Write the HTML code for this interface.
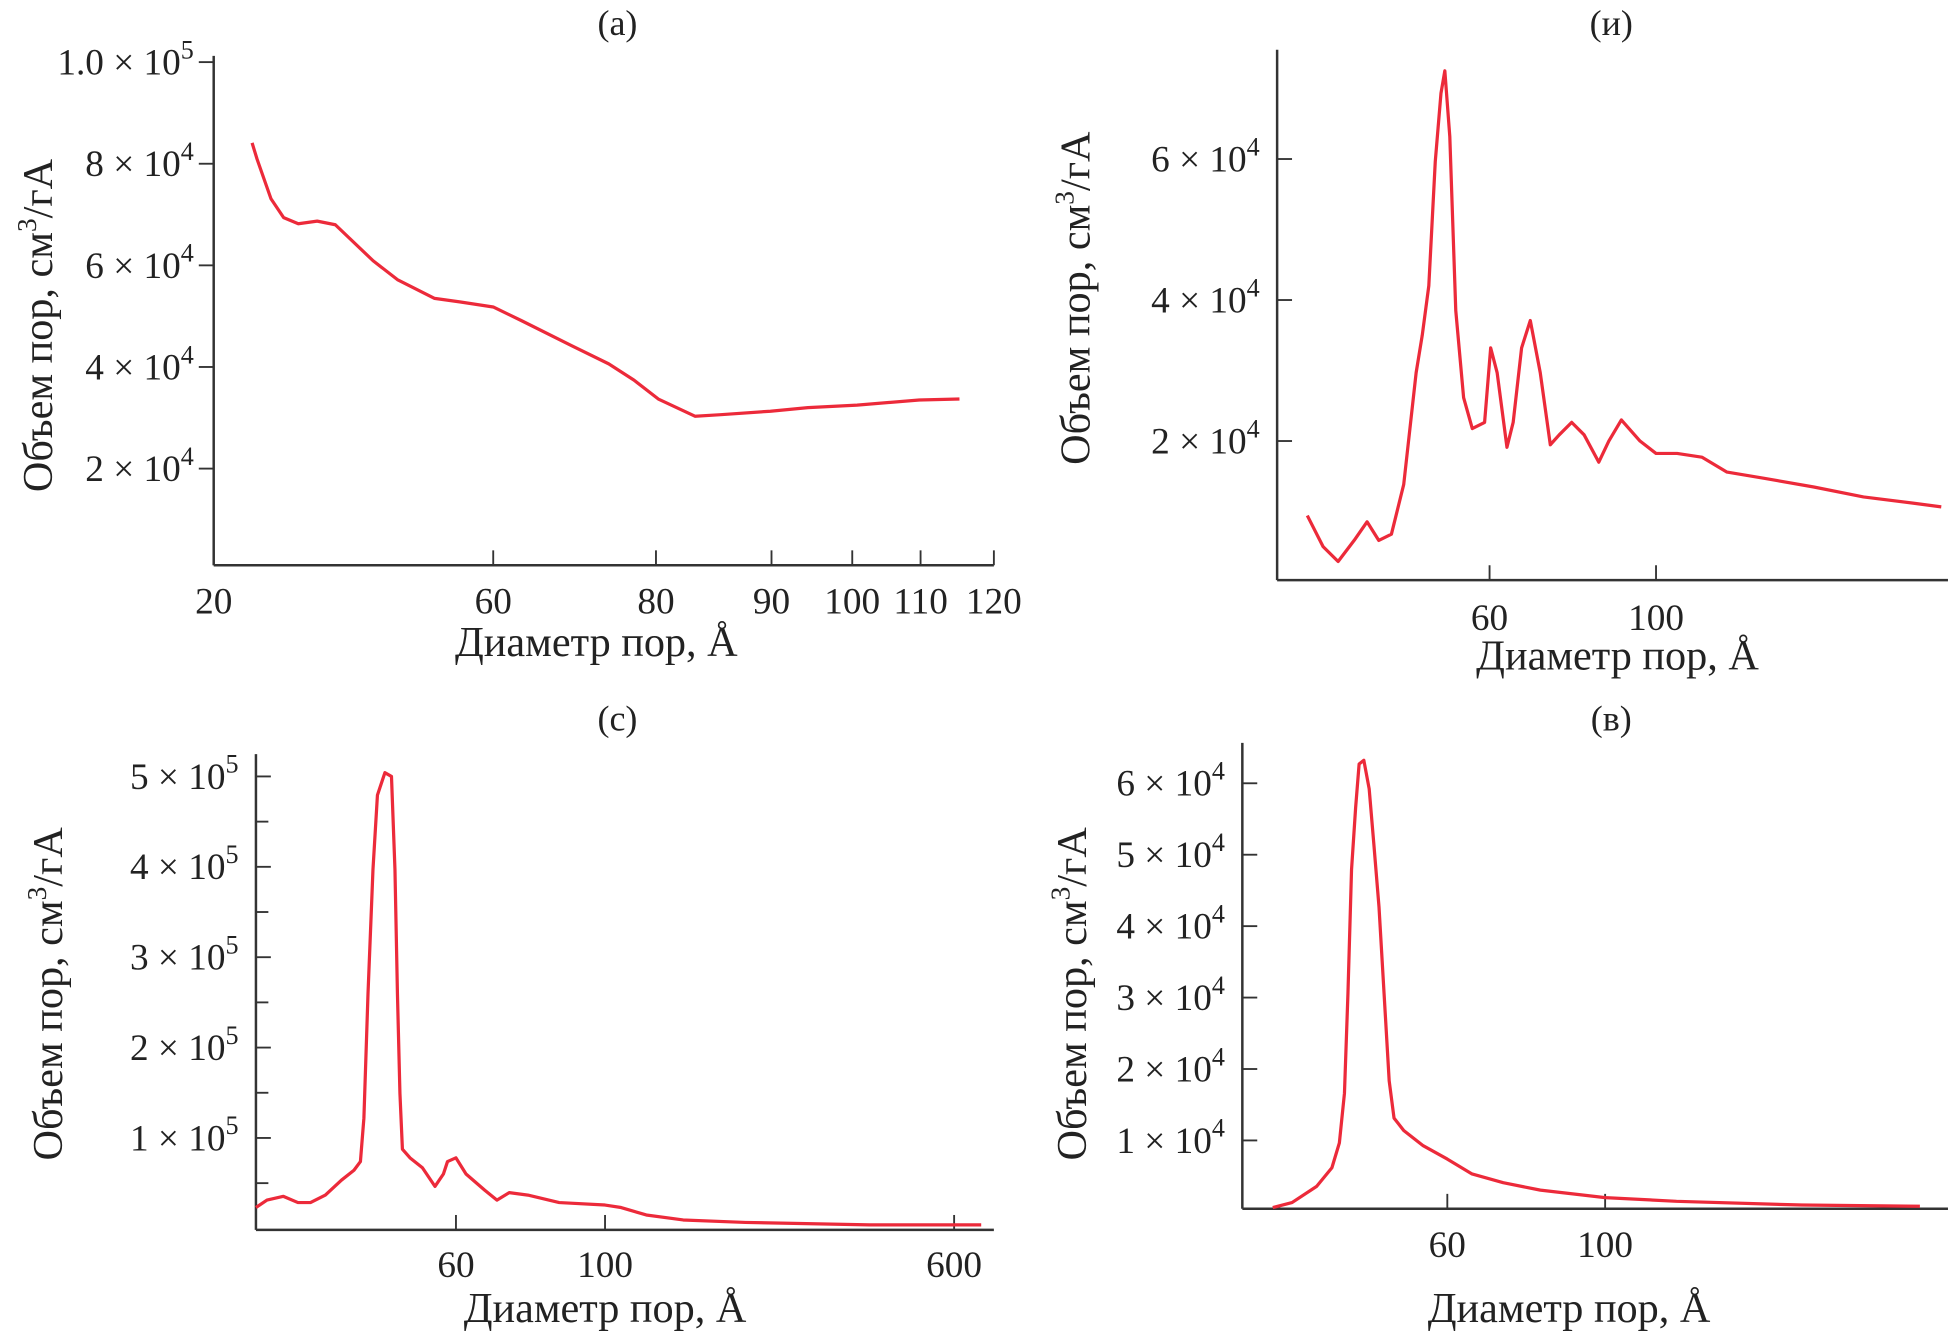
<!DOCTYPE html>
<html><head><meta charset="utf-8">
<style>
html,body{margin:0;padding:0;background:#fff;}
svg{display:block;}
text{font-family:"Liberation Serif","DejaVu Serif",serif;fill:#222;}
</style></head>
<body>
<svg id="fig" width="1948" height="1333" viewBox="0 0 1568 1073" xmlns="http://www.w3.org/2000/svg"></svg>
<script>
// ---- Panel (a) data ----
const aX = [25.5,26.2,28.2,30.0,32.1,34.8,37.4,42.8,46.3,51.6,55.2,60,63.5,69.6,74.2,77.3,80.2,83.4,85.6,89.9,94.5,100.7,109.8,115.3];
const aY = [84100,80900,73100,69400,68200,68700,68000,60900,57200,53500,52800,51800,49100,44200,40600,37400,33700,30300,30600,31300,32000,32500,33500,33700];
const aXTicks = [20,60,80,90,100,110,120];
const aYTicks = [100000,80000,60000,40000,20000];
// ---- Panel (и) data ----
const bX = [34.3,36.0,37.7,39.6,41.2,42.7,44.4,46.1,47.9,48.8,49.8,50.8,51.7,52.3,53.1,54.1,55.4,56.9,59.1,60.2,61.4,63.3,64.5,66.2,68.0,70.1,72.3,74.3,77.2,80.2,83.9,86.5,89.9,95.2,100,106.7,115.1,124.3,139.4,162.3,189,220,240];
const bY = [9430,5020,2910,5900,8550,5900,6780,13830,29690,34980,42030,59650,69340,72510,63170,38500,26170,21760,22640,33220,29690,19120,22640,33220,37090,29690,19470,20880,22640,20880,17000,20000,23000,20000,18240,18240,17710,15590,14710,13480,12070,11190,10660];
const bXTicks = [60,100];
const bYTicks = [60000,40000,20000];
// ---- Panel (с) data ----
const cX = [20,22.2,25.5,28.4,30.9,33.9,37.1,39.6,40.9,41.6,42.4,43.4,44.3,45.8,47.1,47.8,48.3,48.8,49.3,50.8,53.3,55.8,57.5,58.3,60,62.7,67.7,71,74.3,79.3,87.7,100,123,159,212,301,479,639];
const cY = [23000,31300,35400,28500,28500,36800,53300,64300,73900,122000,259500,396900,479400,504100,500000,396900,259500,149500,87600,78000,67000,46400,60100,73900,78000,60100,42300,31300,39500,36800,28500,25800,23000,14800,9300,6500,3800,3800];
const cXTicks = [60,100,600];
const cYTicks = [500000,400000,300000,200000,100000];
const cYMinor = [450000,350000,250000,150000,50000];
// ---- Panel (в) data ----
const dX = [34.1,36.3,39.3,41.3,42.3,43.0,43.5,44.0,44.6,45.1,45.8,46.6,47.3,48.1,48.9,49.7,50.5,52.1,55.4,60,65.0,71.9,81.1,100,126,189,277];
const dY = [610,1300,3570,6170,9650,16610,30520,47910,56610,62700,63220,59220,51390,42700,30520,18350,13130,11390,9300,7390,5300,4090,3040,2000,1480,960,780];
const dXTicks = [60,100];
const dYTicks = [60000,50000,40000,30000,20000,10000];

const NS = "http://www.w3.org/2000/svg";
const svg = document.getElementById('fig');
function mk(tag, attrs, parent){const e=document.createElementNS(NS,tag);for(const k in attrs)e.setAttribute(k,attrs[k]);(parent||svg).appendChild(e);return e;}
function pw(anchors){return v=>{let i=0;while(i<anchors.length-2&&v>anchors[i+1][0])i++;const a=anchors[i],b=anchors[i+1];return a[1]+(v-a[0])*(b[1]-a[1])/(b[0]-a[0]);};}
function logS(v0,p0,ppd){return v=>p0+Math.log10(v/v0)*ppd;}
function linY(zero,ppu){return v=>zero-v*ppu;}
function sci(v){const e=Math.floor(Math.log10(v)+1e-9);let m=v/Math.pow(10,e);return [(Math.round(m*10)/10).toString(),e];}

function panel(cfg){
  const g=mk('g',{});
  
  
  const t=mk('text',{x:cfg.titleX,y:cfg.titleY,'text-anchor':'middle','font-size':29},g);t.textContent=cfg.title;
  
  
  const ya=mk('line',{x1:cfg.x0,y1:cfg.yTop,x2:cfg.x0,y2:cfg.y0,stroke:'#333','stroke-width':2},g);
  
  
  const xa=mk('line',{x1:cfg.x0,y1:cfg.y0,x2:cfg.xEnd,y2:cfg.y0,stroke:'#333','stroke-width':2},g);
  
  
  cfg.yTicks.forEach((v,i)=>{
    const y=cfg.sy(v);
    const tk=mk('line',{x1:cfg.x0+cfg.yTickDir*12,y1:y,x2:cfg.x0,y2:y,stroke:'#333','stroke-width':1.5},g);
    
    
    const [m,e]=sci(v);
    const tx=mk('text',{x:cfg.x0-cfg.labelGap,y:y+10,'text-anchor':'end','font-size':30},g);
    
    
    const s1=mk('tspan',{},tx);s1.textContent=((cfg.fixed1&&i===0)?(+m).toFixed(1):m)+' × 10';
    const s2=mk('tspan',{dy:-13,'font-size':21},tx);s2.textContent=e;
  });
  (cfg.yMinor||[]).forEach(v=>{
    const y=cfg.sy(v);
    const tk=mk('line',{x1:cfg.x0+10,y1:y,x2:cfg.x0,y2:y,stroke:'#333','stroke-width':1.5},g);
    
    
  });
  cfg.xTicks.forEach(v=>{
    const x=cfg.sx(v);
    const tk=mk('line',{x1:x,y1:cfg.y0-12,x2:x,y2:cfg.y0,stroke:'#333','stroke-width':1.5},g);
    
    
    const tx=mk('text',{x:x,y:cfg.xLabelY,'text-anchor':'middle','font-size':30},g);
    tx.textContent=v;
    
    
  });
  let d='';
  cfg.xs.forEach((v,i)=>{d+=(i?'L':'M')+cfg.sx(v).toFixed(1)+','+cfg.sy(cfg.ys[i]).toFixed(1);});
  const p=mk('path',{d:d,fill:'none',stroke:'#ec2a3a','stroke-width':2.6,'stroke-linejoin':'round'},g);
  
  
  const xt=mk('text',{x:cfg.xtX,y:cfg.xtY,'text-anchor':'middle','font-size':34},g);
  xt.textContent='Диаметр пор, Å';
  
  
  const yt=mk('text',{x:0,y:0,'text-anchor':'middle','font-size':34,transform:`translate(${cfg.ytX},${cfg.ytY}) rotate(-90)`},g);
  
  
  const a1=mk('tspan',{},yt);a1.textContent='Объем пор, см';
  const a2=mk('tspan',{dy:-13,'font-size':22},yt);a2.textContent='3';
  const a3=mk('tspan',{dy:13},yt);a3.textContent='/гА';
}

panel({name:'panel-a',title:'(а)',titleX:497,titleY:28,x0:172,y0:455,yTop:45,xEnd:800,
  sx:pw([[20,172],[60,397],[80,528],[90,621],[100,686],[110,741],[120,800]]),sy:linY(459,0.00409),
  xs:aX,ys:aY,xTicks:aXTicks,yTicks:aYTicks,yTickDir:-1,labelGap:16,fixed1:true,xLabelY:494,
  xtX:480,xtY:528,ytX:42,ytY:262});
panel({name:'panel-i',title:'(и)',titleX:1297,titleY:28,x0:1028,y0:467,yTop:40,xEnd:1568,
  sx:logS(60,1199,604),sy:linY(468.5,0.005675),
  xs:bX,ys:bY,xTicks:bXTicks,yTicks:bYTicks,yTickDir:1,labelGap:14,xLabelY:507,
  xtX:1302,xtY:539,ytX:877,ytY:240});
panel({name:'panel-c',title:'(с)',titleX:497,titleY:588,x0:206,y0:990,yTop:607,xEnd:800,
  sx:pw([[20,206],[60,367],[100,487],[600,768],[700,824]]),sy:linY(988.75,0.0007275),
  xs:cX,ys:cY,xTicks:cXTicks,yTicks:cYTicks,yMinor:cYMinor,yTickDir:1,labelGap:14,xLabelY:1028,
  xtX:487,xtY:1064,ytX:50,ytY:800});
panel({name:'panel-v',title:'(в)',titleX:1297,titleY:588,x0:1000,y0:973,yTop:598,xEnd:1568,
  sx:logS(60,1165,572.6),sy:linY(975.5,0.00575),
  xs:dX,ys:dY,xTicks:dXTicks,yTicks:dYTicks,yTickDir:1,labelGap:14,xLabelY:1012,
  xtX:1263,xtY:1064,ytX:874,ytY:800});
</script>
</body></html>
